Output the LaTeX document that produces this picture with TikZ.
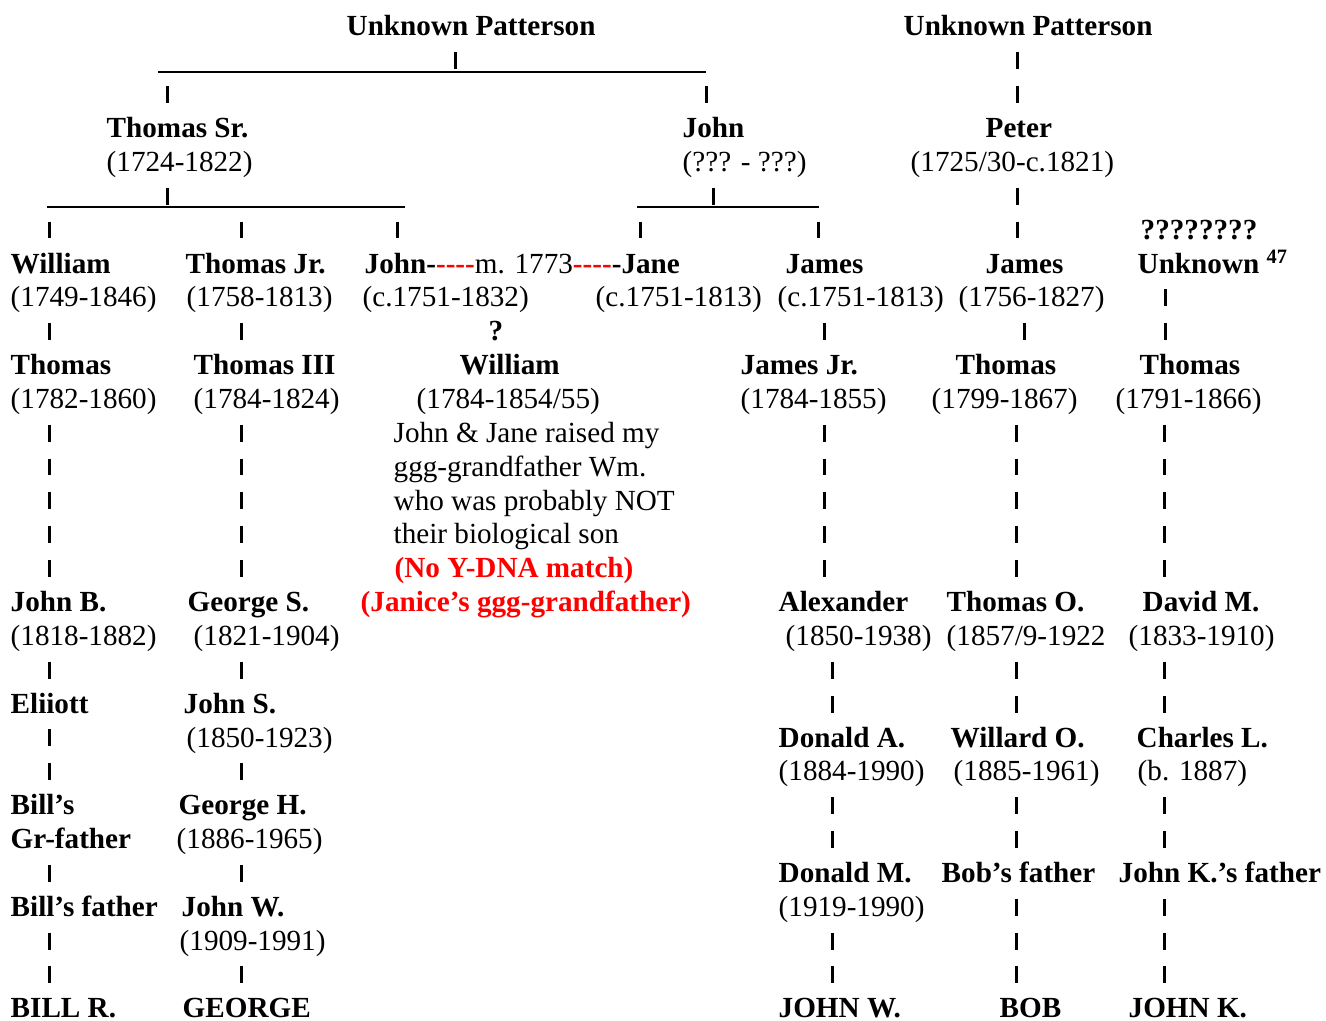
\documentclass[tikz,border=0pt]{standalone}
\usepackage{fontspec}
\setmainfont{Liberation Serif}
\usepackage{tikz}
\usetikzlibrary{positioning}
\newcommand{\treefont}{\fontsize{8.3pt}{9.63pt}\selectfont}
\tikzset{
nm/.style={
  anchor=base west,
  inner sep=0pt,
  font=\treefont\bfseries
  },
dt/.style={
  anchor=base west,
  inner sep=0pt,
  font=\treefont
  },
rednm/.style={nm, text=red},
tick/.style={line width=0.3mm},
uline/.style={line width=0.2mm}
}
% column of short bars, one per row
\newcommand{\ticks}[2]{\foreach \rw in {#2} {\draw[tick] (#1,\rw-0.52) -- (#1,\rw-0.02);}}
\newcommand{\reddash}{\textcolor{red}{-{}-{}-{}-}}

\begin{document}
\begin{tikzpicture}[x=0.1mm, y=-3.386mm]
\useasboundingbox (0,-1.063) rectangle (1326,29.09);

% top generation
\node[nm]	(unkl)		at (346,0)		{Unknown Patterson};
\node[nm]	(unkr)		at (903,0)		{Unknown Patterson};
\draw[uline]	(158,1.06)	--	(706,1.06);
\ticks{455}{1}
\ticks{167}{2}
\ticks{706}{2}
\ticks{1017}{1,2}

\node[nm]	(thomassr)	at (106,3)		{Thomas Sr.};
\node[dt]	(thomassrd)	at (106,4)		{(1724-1822)};
\node[nm]	(john)		at (682,3)		{John};
\node[dt]	(johnd)		at (682,4)		{(??? - ???)};
\node[nm]	(peter)		at (985,3)		{Peter};
\node[dt]	(peterd)		at (910,4)		{(1725/30-c.1821)};

\draw[uline]	(47,5.06)	--	(405,5.06);
\ticks{167}{5}
\draw[uline]	(637,5.06)	--	(819,5.06);
\ticks{713}{5}
\ticks{1017}{5,6}
\ticks{49}{6}
\ticks{241}{6}
\ticks{397}{6}
\ticks{640}{6}
\ticks{818}{6}
\node[nm]	(qmarks)		at (1140,6)		{????????};

% second generation
\node[nm]	(william)	at (10,7)		{William};
\node[dt]	(williamd)	at (10,8)		{(1749-1846)};
\node[nm]	(thomasjr)	at (185,7)		{Thomas Jr.};
\node[dt]	(thomasjrd)	at (186,8)		{(1758-1813)};
\node[nm]	(marriage)	at (364,7)		{John-{}\reddash{}\mdseries m. 1773\bfseries\reddash{}-Jane};
\node[dt]	(johnjd)		at (362,8)		{(c.1751-1832)};
\node[dt]	(janed)		at (595,8)		{(c.1751-1813)};
\node[nm]	(jamesa)		at (785,7)		{James};
\node[dt]	(jamesad)	at (777,8)		{(c.1751-1813)};
\node[nm]	(jamesb)		at (985,7)		{James};
\node[dt]	(jamesbd)	at (958,8)		{(1756-1827)};
\node[nm]	(unknown)	at (1137,7)		{Unknown \textsuperscript{47}};

\ticks{49}{9}
\ticks{241}{9}
\node[nm]	(maybe)		at (488,9)		{?};
\ticks{824}{9}
\ticks{1024}{9}
\ticks{1165}{8,9}

% third generation
\node[nm]	(thomasa)	at (10,10)		{Thomas};
\node[dt]	(thomasad)	at (10,11)		{(1782-1860)};
\node[nm]	(thomasiii)	at (193,10)		{Thomas III};
\node[dt]	(thomasiiid)	at (193,11)		{(1784-1824)};
\node[nm]	(williamb)	at (459,10)		{William};
\node[dt]	(williambd)	at (416,11)		{(1784-1854/55)};
\node[nm]	(jamesjr)	at (740,10)		{James Jr.};
\node[dt]	(jamesjrd)	at (740,11)		{(1784-1855)};
\node[nm]	(thomasb)	at (955,10)		{Thomas};
\node[dt]	(thomasbd)	at (931,11)		{(1799-1867)};
\node[nm]	(thomasc)	at (1139,10)		{Thomas};
\node[dt]	(thomascd)	at (1115,11)		{(1791-1866)};

% note on William
\node[dt]	(note1)		at (393,12)		{John \& Jane raised my};
\node[dt]	(note2)		at (393,13)		{ggg-grandfather Wm.};
\node[dt]	(note3)		at (393,14)		{who was probably NOT};
\node[dt]	(note4)		at (393,15)		{their biological son};
\node[rednm]	(dna)		at (394,16)		{(No Y-DNA match)};
\node[rednm]	(janice)		at (360,17)		{(Janice’s ggg-grandfather)};

\ticks{49}{12,...,16}
\ticks{241}{12,...,16}
\ticks{824}{12,...,16}
\ticks{1016}{12,...,16}
\ticks{1164}{12,...,16}

% fourth generation
\node[nm]	(johnb)		at (10,17)		{John B.};
\node[dt]	(johnbd)		at (10,18)		{(1818-1882)};
\node[nm]	(georges)	at (187,17)		{George S.};
\node[dt]	(georgesd)	at (193,18)		{(1821-1904)};
\node[nm]	(alexander)	at (778,17)		{Alexander};
\node[dt]	(alexanderd)	at (785,18)		{(1850-1938)};
\node[nm]	(thomaso)	at (946,17)		{Thomas O.};
\node[dt]	(thomasod)	at (946,18)		{(1857/9-1922};
\node[nm]	(davidm)		at (1142,17)		{David M.};
\node[dt]	(davidmd)	at (1128,18)		{(1833-1910)};

\ticks{49}{19}
\ticks{241}{19}
\ticks{832}{19,20}
\ticks{1016}{19,20}
\ticks{1164}{19,20}

\node[nm]	(eliiott)		at (10,20)		{Eliiott};
\node[nm]	(johns)		at (183,20)		{John S.};
\node[dt]	(johnsd)		at (186,21)		{(1850-1923)};
\ticks{49}{21,22}
\ticks{241}{22}

\node[nm]	(donalda)	at (778,21)		{Donald A.};
\node[dt]	(donaldad)	at (778,22)		{(1884-1990)};
\node[nm]	(willardo)	at (950,21)		{Willard O.};
\node[dt]	(willardod)	at (953,22)		{(1885-1961)};
\node[nm]	(charlesl)	at (1136,21)		{Charles L.};
\node[dt]	(charlesld)	at (1137,22)		{(b. 1887)};

\node[nm]	(billgf)		at (10,23)		{Bill’s};
\node[nm]	(billgf2)		at (10,24)		{Gr-father};
\node[nm]	(georgeh)	at (178,23)		{George H.};
\node[dt]	(georgehd)	at (176,24)		{(1886-1965)};
\ticks{832}{23,24}
\ticks{1016}{23,24}
\ticks{1164}{23,24}

\ticks{49}{25}
\ticks{241}{25}
\node[nm]	(donaldm)	at (778,25)		{Donald M.};
\node[dt]	(donaldmd)	at (778,26)		{(1919-1990)};
\node[nm]	(bobf)		at (941,25)		{Bob’s father};
\node[nm]	(johnkf)		at (1118,25)		{John K.’s father};

\node[nm]	(billf)		at (10,26)		{Bill’s father};
\node[nm]	(johnw)		at (181,26)		{John W.};
\node[dt]	(johnwd)		at (179,27)		{(1909-1991)};
\ticks{49}{27,28}
\ticks{241}{28}
\ticks{832}{27,28}
\ticks{1016}{26,27,28}
\ticks{1164}{26,27,28}

% living descendants
\node[nm]	(billr)		at (10,29)		{BILL R.};
\node[nm]	(george)		at (182,29)		{GEORGE};
\node[nm]	(johnwb)		at (778,29)		{JOHN W.};
\node[nm]	(bob)		at (999,29)		{BOB};
\node[nm]	(johnk)		at (1128,29)		{JOHN K.};
\end{tikzpicture}
\end{document}
